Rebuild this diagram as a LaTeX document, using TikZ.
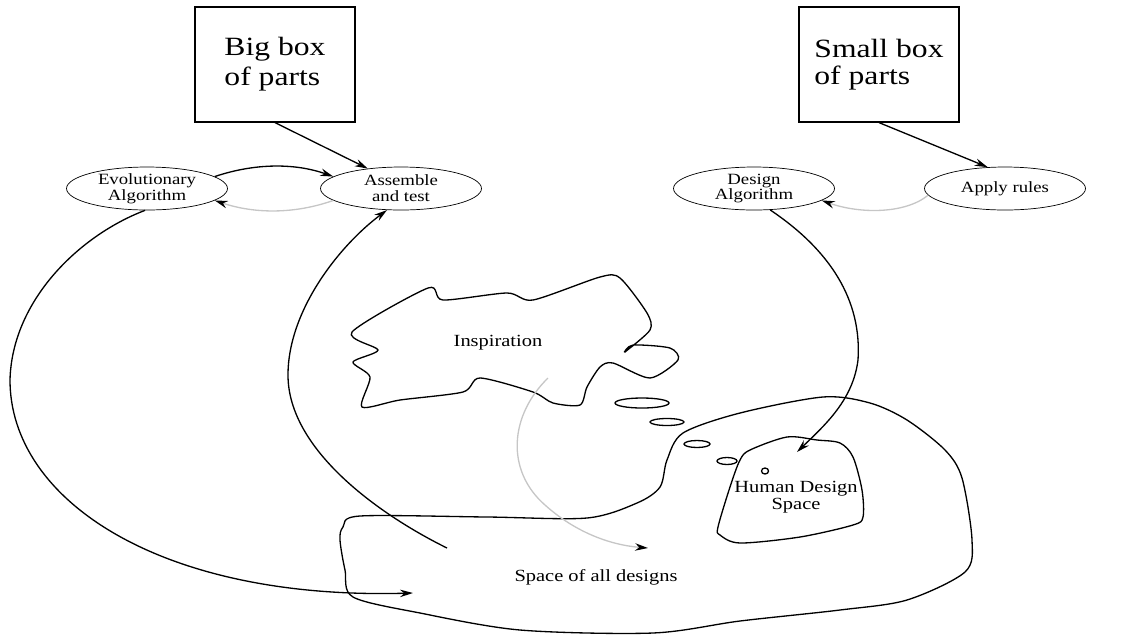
\documentclass[tikz,border=0pt]{standalone}
\usepackage{fontspec}
\setmainfont{Liberation Serif}[FakeStretch=1.2]
\usepackage{tikz}
\usetikzlibrary{arrows.meta,shapes.geometric,positioning,calc}

\begin{document}
\begin{tikzpicture}[x=0.02cm,y=-0.02cm,
    partbox/.style={draw, line width=0.7pt, minimum width=3.2cm, minimum height=2.3cm, align=left, font=\fontsize{15}{17}\selectfont},
    stage/.style={draw, ellipse, minimum width=3.22cm, minimum height=0.86cm, inner sep=0pt, align=center, font=\fontsize{8.9}{9}\selectfont},
    region/.style={align=center, font=\fontsize{9.7}{9.6}\selectfont},
    blob/.style={line width=0.75pt},
    arr/.style={line width=0.75pt, -{Stealth[length=2.6mm, width=1.5mm, color=black]}},
    faint/.style={arr, draw=gray!45}]
	\useasboundingbox (0,0) rectangle (1123,637);

	\node[partbox] (bigbox) at (275,64.5) {Big box\\of parts};
	\node[partbox, font=\fontsize{15}{15}\selectfont] (smallbox) at (879,64.5) {Small box\\of parts};

	\node[stage] (evo) at (147,188.5) {Evolutionary\\Algorithm};
	\node[stage] (assemble) at (401,188.5) {Assemble\\and test};
	\node[stage] (design) at (754,188.5) {Design\\Algorithm};
	\node[stage] (apply) at (1005,188.5) {Apply rules};

	\draw[arr] (bigbox.south) -- (assemble.149);
	\draw[arr] (smallbox.south) -- (apply.129);
	\draw[arr] (evo.10) .. controls (255,163) and (295,163) .. (assemble.170);
	\draw[faint] (assemble.190) .. controls (295,214) and (255,214) .. (evo.350);
	\draw[faint] (apply.185) .. controls (905,214) and (860,214) .. (design.350);

	% regions
	\draw[blob] plot[smooth cycle, tension=0.5] coordinates {(343,527) (360,516) (487,517) (587,518) (637,503) (660,487) (667,460) (683,433) (740,413) (823,397) (870,403) (907,420) (945,450) (962,478) (972,540) (965,572) (907,600) (840,610) (740,621) (653,633) (520,630) (420,613) (353,597) (345,570) (340,540)};
	\draw[blob] plot[smooth cycle, tension=0.5] coordinates {(750,450) (787,437) (817,440) (840,443) (853,457) (862,490) (863,517) (853,525) (800,537) (740,543) (720,535) (718,527) (730,487) (740,460)};
	\draw[blob] plot[smooth cycle, tension=0.45] coordinates {(352,332) (378,350) (353,362) (370,377) (362,407) (400,400) (463,392) (480,378) (533,392) (553,403) (580,405) (587,387) (600,367) (613,363) (650,378) (678,360) (670,348) (633,345) (625,352) (650,330) (647,313) (620,278) (600,277) (533,300) (507,293) (443,300) (428,288)};

	\draw[blob] (642,403) ellipse [x radius=27, y radius=5];
	\draw[blob] (667,422) ellipse [x radius=17, y radius=3.5];
	\draw[blob] (697,444) ellipse [x radius=13, y radius=3.5];
	\draw[blob] (727,461) ellipse [x radius=10, y radius=3.5];
	\draw[blob] (765,471) ellipse [x radius=3.5, y radius=3];

	\node[region] (insplabel) at (498,343) {Inspiration};
	\node[region] (alllabel) at (596,577) {Space of all designs};
	\node[region] (hdslabel) at (796,497) {Human Design\\Space};

	% long connectors
	\coordinate (evoend) at (413,593);
	\coordinate (asmstart) at (447,548);
	\coordinate (inspstart) at (548,378);
	\coordinate (inspend) at (648,548);
	\coordinate (hdsend) at (797,452);

	\draw[arr] (evo.265) .. controls (80,235) and (12,300) .. (10,380) .. controls (10,500) and (160,600) .. (evoend);
	\draw[arr] (asmstart) .. controls (380,515) and (288,450) .. (288,375) .. controls (288,310) and (340,245) .. (assemble.237);
	\draw[faint] (inspstart) .. controls (510,415) and (505,470) .. (545,505) .. controls (575,532) and (610,545) .. (inspend);
	\draw[arr] (design.307) .. controls (830,250) and (862,300) .. (858,360) .. controls (853,400) and (825,425) .. (hdsend);
\end{tikzpicture}
\end{document}
